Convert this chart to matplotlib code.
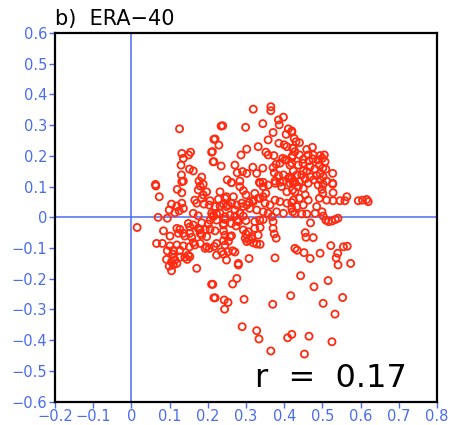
import matplotlib
matplotlib.use("Agg")
import matplotlib.pyplot as plt

# ERA-40 paired anomalies (x, y)
x_vals = [
    0.126, 0.216, 0.132, 0.136, 0.150, 0.155, 0.210, 0.214, 0.130, 0.152, 0.162, 0.131, 0.136, 0.184, 0.177, 0.063,
    0.319, 0.365, 0.365, 0.235, 0.239, 0.299, 0.344, 0.385, 0.398, 0.387, 0.411, 0.371, 0.405, 0.420, 0.219, 0.229,
    0.358, 0.386, 0.400, 0.407, 0.422, 0.332, 0.302, 0.287, 0.212, 0.352, 0.358, 0.373, 0.396, 0.407, 0.420, 0.216,
    0.235, 0.271, 0.291, 0.318, 0.328, 0.344, 0.371, 0.379, 0.389, 0.402, 0.415, 0.374, 0.385, 0.398, 0.415, 0.251,
    0.262, 0.284, 0.335, 0.345, 0.376, 0.389, 0.398, 0.411, 0.424,
    0.420, 0.426, 0.440, 0.431, 0.424, 0.428, 0.459, 0.474, 0.440, 0.422, 0.463, 0.476, 0.494, 0.505, 0.450, 0.465,
    0.475, 0.489, 0.500, 0.507, 0.420, 0.437, 0.449, 0.492, 0.501, 0.468, 0.480, 0.509, 0.424, 0.450, 0.459, 0.494,
    0.527, 0.433, 0.446, 0.468, 0.485, 0.502, 0.420, 0.455, 0.477, 0.494, 0.511, 0.428, 0.440, 0.463, 0.527, 0.502,
    0.064, 0.132, 0.120, 0.132, 0.073, 0.180, 0.175, 0.188, 0.197, 0.166, 0.171, 0.184, 0.190, 0.206, 0.204, 0.105,
    0.119, 0.132, 0.099, 0.114, 0.125, 0.162, 0.175, 0.210, 0.070, 0.094, 0.015, 0.084, 0.101, 0.119, 0.127, 0.123,
    0.149, 0.153, 0.162, 0.184, 0.201, 0.180, 0.184, 0.206, 0.140, 0.158, 0.066, 0.081, 0.101, 0.119, 0.136, 0.152,
    0.166, 0.180, 0.197, 0.094, 0.110, 0.127, 0.149, 0.193, 0.204, 0.092, 0.105, 0.114, 0.127, 0.110, 0.099, 0.119,
    0.146, 0.171, 0.105, 0.210, 0.216,
    0.262, 0.284, 0.293, 0.232, 0.300, 0.323, 0.337, 0.345, 0.358, 0.376, 0.393, 0.415, 0.407, 0.422, 0.352, 0.337,
    0.319, 0.308, 0.350, 0.363, 0.376, 0.389, 0.407, 0.420, 0.267, 0.245, 0.228, 0.253, 0.241, 0.219, 0.293, 0.310,
    0.328, 0.345, 0.358, 0.380, 0.398, 0.422, 0.232, 0.214, 0.271, 0.293, 0.368, 0.245, 0.276, 0.300, 0.323, 0.345,
    0.371, 0.241, 0.274, 0.219, 0.241, 0.293, 0.306, 0.323, 0.337, 0.371, 0.245, 0.258, 0.300, 0.315, 0.332, 0.374,
    0.379, 0.241, 0.302, 0.308, 0.319, 0.328, 0.337, 0.223, 0.245, 0.428, 0.241, 0.253, 0.265, 0.271, 0.249, 0.280,
    0.308, 0.376,
    0.424, 0.437, 0.428, 0.450, 0.455, 0.440, 0.424, 0.463, 0.420, 0.433, 0.450, 0.489, 0.499, 0.501, 0.492, 0.527,
    0.528, 0.511, 0.528, 0.546, 0.559, 0.564, 0.594, 0.605, 0.616, 0.620, 0.485, 0.499, 0.428, 0.446, 0.459, 0.481,
    0.502, 0.509, 0.516, 0.525, 0.534, 0.541, 0.469, 0.455, 0.457, 0.476, 0.434, 0.452, 0.468, 0.494, 0.522, 0.555,
    0.565, 0.540, 0.536, 0.541, 0.574,
    0.280, 0.213, 0.276, 0.265, 0.219, 0.243, 0.253, 0.244, 0.295, 0.370, 0.417, 0.290, 0.328, 0.334, 0.409, 0.420,
    0.365,
    0.443, 0.515, 0.478, 0.553, 0.502, 0.533, 0.465, 0.525, 0.453,
    0.188, 0.136, 0.214, 0.223, 0.249, 0.262, 0.232, 0.249, 0.276, 0.271, 0.289, 0.302, 0.319, 0.332, 0.345, 0.284,
    0.258, 0.245, 0.223, 0.206, 0.175, 0.193, 0.241, 0.262, 0.280, 0.336, 0.136, 0.153, 0.180, 0.197, 0.254, 0.262,
    0.298, 0.315, 0.162, 0.217, 0.108, 0.153, 0.223, 0.236, 0.110, 0.140, 0.302, 0.277,
]
y_vals = [
    0.288, 0.254, 0.208, 0.192, 0.203, 0.212, 0.212, 0.181, 0.170, 0.157, 0.151, 0.138, 0.118, 0.131, 0.118, 0.107,
    0.352, 0.360, 0.347, 0.297, 0.298, 0.293, 0.305, 0.317, 0.326, 0.301, 0.288, 0.276, 0.270, 0.277, 0.255, 0.235,
    0.252, 0.241, 0.236, 0.230, 0.225, 0.230, 0.222, 0.203, 0.214, 0.212, 0.203, 0.201, 0.192, 0.187, 0.194, 0.181,
    0.167, 0.170, 0.149, 0.163, 0.143, 0.160, 0.162, 0.173, 0.176, 0.187, 0.170, 0.145, 0.136, 0.138, 0.132, 0.122,
    0.113, 0.118, 0.114, 0.114, 0.118, 0.114, 0.118, 0.127, 0.118,
    0.281, 0.257, 0.243, 0.246, 0.225, 0.214, 0.221, 0.228, 0.203, 0.201, 0.203, 0.203, 0.201, 0.203, 0.189, 0.184,
    0.190, 0.187, 0.192, 0.181, 0.176, 0.170, 0.176, 0.170, 0.160, 0.165, 0.157, 0.157, 0.151, 0.151, 0.149, 0.143,
    0.143, 0.138, 0.138, 0.132, 0.136, 0.132, 0.127, 0.125, 0.122, 0.122, 0.118, 0.114, 0.116, 0.111, 0.111, 0.107,
    0.102, 0.116, 0.091, 0.080, 0.067, 0.102, 0.089, 0.108, 0.083, 0.056, 0.046, 0.062, 0.043, 0.054, 0.040, 0.043,
    0.037, 0.046, 0.024, 0.015, 0.021, 0.013, 0.005, 0.013, 0.000, -0.003, -0.033, -0.044, -0.061, -0.036, -0.039, -0.052,
    -0.020, -0.031, -0.025, -0.018, -0.022, -0.041, -0.058, -0.039, -0.061, -0.065, -0.085, -0.085, -0.093, -0.090, -0.093, -0.096,
    -0.090, -0.085, -0.096, -0.109, -0.107, -0.107, -0.123, -0.101, -0.101, -0.137, -0.145, -0.139, -0.130, -0.155, -0.159, -0.150,
    -0.137, -0.166, -0.174, -0.218, -0.262,
    0.113, 0.100, 0.087, 0.083, 0.073, 0.078, 0.111, 0.100, 0.105, 0.111, 0.100, 0.111, 0.083, 0.089, 0.078, 0.062,
    0.056, 0.048, 0.046, 0.040, 0.056, 0.051, 0.046, 0.048, 0.067, 0.062, 0.059, 0.040, 0.043, 0.035, 0.035, 0.029,
    0.024, 0.018, 0.013, 0.018, 0.013, 0.018, 0.013, 0.007, 0.004, 0.004, 0.002, -0.007, -0.011, -0.011, -0.014, -0.007,
    -0.014, -0.025, -0.028, -0.044, -0.044, -0.041, -0.047, -0.036, -0.033, -0.036, -0.058, -0.063, -0.054, -0.063, -0.058, -0.054,
    -0.068, -0.076, -0.079, -0.074, -0.083, -0.087, -0.088, -0.085, -0.090, -0.101, -0.120, -0.112, -0.109, -0.113, -0.139, -0.150,
    -0.134, -0.132,
    0.111, 0.100, 0.083, 0.094, 0.073, 0.062, 0.056, 0.056, 0.029, 0.035, 0.040, 0.105, 0.091, 0.078, 0.062, 0.108,
    0.080, 0.056, 0.054, 0.054, 0.054, 0.067, 0.054, 0.056, 0.058, 0.051, 0.035, 0.018, 0.013, 0.011, 0.011, 0.013,
    0.004, -0.009, -0.014, -0.012, -0.007, -0.003, -0.018, -0.050, -0.065, -0.066, -0.107, -0.115, -0.134, -0.117, -0.092, -0.096,
    -0.094, -0.117, -0.132, -0.155, -0.150,
    -0.155, -0.218, -0.199, -0.217, -0.262, -0.269, -0.277, -0.299, -0.267, -0.283, -0.255, -0.356, -0.369, -0.396, -0.392, -0.381,
    -0.435,
    -0.190, -0.206, -0.226, -0.261, -0.280, -0.315, -0.387, -0.405, -0.445,
    0.073, 0.029, 0.002, 0.011, 0.067, 0.046, 0.037, 0.035, 0.040, 0.024, 0.046, 0.040, 0.051, 0.062, 0.067, 0.013,
    0.007, 0.002, -0.009, -0.009, -0.036, -0.039, -0.020, -0.020, -0.014, -0.009, -0.052, -0.052, -0.052, -0.063, -0.078, -0.060,
    -0.068, -0.070, -0.082, -0.095, -0.120, -0.128, -0.123, -0.112, -0.132, -0.130, 0.143, 0.145,
]
x_ticks = [-0.2, -0.1, 0, 0.1, 0.2, 0.3, 0.4, 0.5, 0.6, 0.7, 0.8]
x_tick_labels = ["-0.2", "-0.1", "0", "0.1", "0.2", "0.3", "0.4", "0.5", "0.6", "0.7", "0.8"]
y_ticks = [-0.6, -0.5, -0.4, -0.3, -0.2, -0.1, 0, 0.1, 0.2, 0.3, 0.4, 0.5, 0.6]
y_tick_labels = ["-0.6", "-0.5", "-0.4", "-0.3", "-0.2", "-0.1", "0", "0.1", "0.2", "0.3", "0.4", "0.5", "0.6"]
r_value = 0.17

blue = "#4a6cf0"
red = "#ff2a10"

fig = plt.figure(figsize=(4.5, 4.25), dpi=100)
ax = fig.add_axes([0.1222, 0.0549, 0.8489, 0.8675])

# zero reference lines
ax.axhline(0, color=blue, lw=1.1, zorder=1)
ax.axvline(0, color=blue, lw=1.1, zorder=1)
ax.scatter(x_vals, y_vals, s=26, facecolors="none", edgecolors=red, linewidths=1.3, zorder=2)

ax.set_xlim(-0.2, 0.8)
ax.set_ylim(-0.6, 0.6)
ax.set_xticks(x_ticks)
ax.set_xticklabels([t.replace("-", "\u2212") for t in x_tick_labels])
ax.set_yticks(y_ticks)
ax.set_yticklabels([t.replace("-", "\u2212") for t in y_tick_labels])
ax.tick_params(axis="both", direction="out", length=4, width=1, color=blue,
               labelcolor=blue, labelsize=10.5, pad=1.5)
for sp in ax.spines.values():
    sp.set_linewidth(1.6)
    sp.set_color("black")

ax.text(0.0, 1.012, "b)  ERA\u221240", transform=ax.transAxes, ha="left", va="bottom",
        fontsize=15, color="black")
ax.text(0.92, 0.022, f"r  =  {r_value:.2f}", transform=ax.transAxes, ha="right", va="bottom",
        fontsize=23, color="black")

fig.savefig("out.png", dpi=100)
